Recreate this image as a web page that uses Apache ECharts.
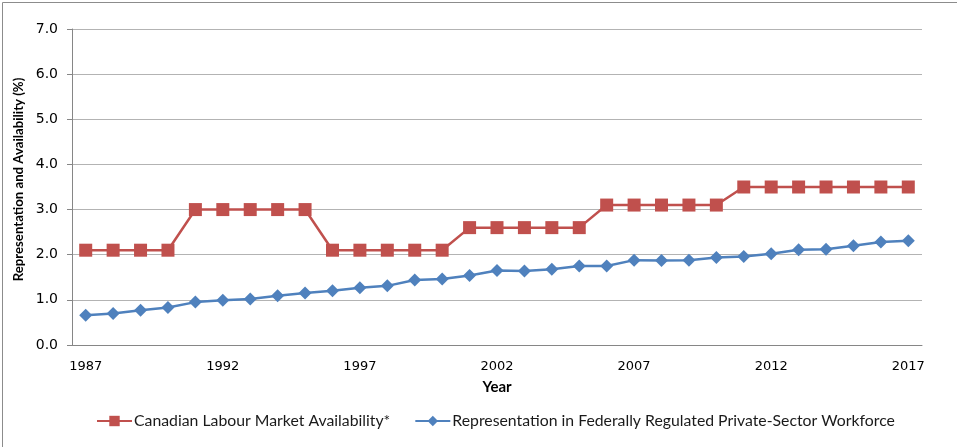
<!DOCTYPE html>
<html>
<head>
<meta charset="utf-8">
<script src="https://cdn.jsdelivr.net/npm/echarts@6/dist/echarts.min.js"></script>
<style>
html,body{margin:0;padding:0;background:#fff;}
#c{width:957px;height:447px;}
</style>
</head>
<body>
<div id="c"></div>
<script>
const years = [];
for (let y = 1987; y <= 2017; y++) years.push(String(y));
const availability = [2.1,2.1,2.1,2.1,3.0,3.0,3.0,3.0,3.0,2.1,2.1,2.1,2.1,2.1,2.6,2.6,2.6,2.6,2.6,3.1,3.1,3.1,3.1,3.1,3.5,3.5,3.5,3.5,3.5,3.5,3.5];
const representation = [0.66,0.70,0.77,0.83,0.95,0.99,1.02,1.09,1.15,1.20,1.27,1.31,1.44,1.46,1.54,1.65,1.64,1.68,1.75,1.75,1.88,1.87,1.88,1.94,1.96,2.02,2.11,2.12,2.20,2.28,2.31];
const seriesNames = ['Canadian Labour Market Availability*','Representation in Federally Regulated Private-Sector Workforce'];

const font = 'Lato, "Open Sans", sans-serif';
const tickFont = '"DejaVu Sans", Verdana, sans-serif';
const chart = echarts.init(document.getElementById('c'));
chart.setOption({
  animation: false,
  textStyle: {fontFamily: font},
  graphic: [{
    type: 'rect', left: 0, top: 0,
    shape: {x: 0.5, y: 0.5, width: 955, height: 445},
    style: {fill: 'none', stroke: '#8c8c8c', lineWidth: 1}
  }],
  grid: {left: 72, right: 35, top: 29, bottom: 102},
  legend: {
    bottom: 13, left: 91, itemGap: 24, itemWidth: 35, itemHeight: 13,
    textStyle: {fontSize: 15.8, color: '#1a1a1a', fontFamily: font, padding: [0, 0, 0, -3]},
    data: seriesNames
  },
  xAxis: {
    type: 'category', data: years, boundaryGap: true,
    name: 'Year', nameLocation: 'middle', nameGap: 35,
    nameTextStyle: {fontWeight: 'bold', fontSize: 15, color: '#000', fontFamily: font},
    axisLine: {lineStyle: {color: '#868686', width: 1}},
    axisTick: {interval: 0, length: 5, lineStyle: {color: '#868686'}},
    axisLabel: {interval: 4, fontSize: 13, color: '#000', margin: 15, fontFamily: tickFont},
    splitLine: {show: false}
  },
  yAxis: {
    type: 'value', min: 0, max: 7, interval: 1,
    name: 'Representation and Availability (%)', nameLocation: 'middle', nameGap: 43,
    nameTextStyle: {fontWeight: 'bold', fontSize: 13.2, color: '#000', fontFamily: font, padding: [0, 0, 0, 15]},
    axisLine: {show: true, lineStyle: {color: '#868686', width: 1}},
    axisTick: {show: true, length: 5, lineStyle: {color: '#868686'}},
    axisLabel: {fontSize: 14, color: '#000', margin: 14, fontFamily: tickFont, formatter: v => v.toFixed(1)},
    splitLine: {lineStyle: {color: '#b3b3b3', width: 1}}
  },
  series: [
    {
      name: seriesNames[0], type: 'line', data: availability,
      symbol: 'rect', symbolSize: 13,
      lineStyle: {color: '#C0504D', width: 2.5},
      itemStyle: {color: '#C0504D'}
    },
    {
      name: seriesNames[1], type: 'line', data: representation,
      symbol: 'diamond', symbolSize: 13,
      lineStyle: {color: '#4F81BD', width: 2.5},
      itemStyle: {color: '#4F81BD'}
    }
  ]
});
</script>
</body>
</html>
